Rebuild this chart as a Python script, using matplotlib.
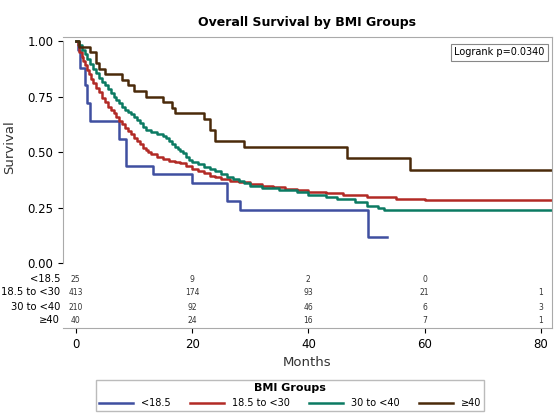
import matplotlib
matplotlib.use("Agg")
import matplotlib.pyplot as plt
import matplotlib.transforms as mtrans

groups = ["<18.5", "18.5 to <30", "30 to <40", "≥40"]
colors = ["#3f4fa0", "#b22a25", "#0b7a62", "#4a2a0a"]

t_blue = [0, 0.3, 0.8, 1.5, 2.0, 2.4, 7.4, 8.6, 13.3, 19.9, 26.0, 28.2, 50.3, 53.6]
s_blue = [1.0, 0.96, 0.88, 0.80, 0.72, 0.64, 0.56, 0.44, 0.40, 0.36, 0.28, 0.24, 0.12, 0.12]
t_red = [0, 0.3, 0.6, 1, 1.3, 1.6, 2, 2.3, 2.6, 3, 3.5, 4, 4.5, 5, 5.5, 6, 6.5, 7, 7.5, 8, 8.5, 9, 9.5, 10, 10.5, 11, 11.5, 12, 12.5, 13, 14, 15, 16, 17, 18, 19, 20, 21, 22, 23, 24, 25, 26.5, 28, 30, 32, 34, 36, 38, 40, 43, 46, 50, 55, 60, 81.8, 82]
s_red = [1, 0.98, 0.95, 0.93, 0.91, 0.89, 0.87, 0.85, 0.83, 0.81, 0.79, 0.77, 0.745, 0.725, 0.705, 0.69, 0.675, 0.66, 0.64, 0.625, 0.61, 0.595, 0.58, 0.565, 0.55, 0.535, 0.52, 0.51, 0.50, 0.49, 0.48, 0.47, 0.46, 0.455, 0.45, 0.44, 0.425, 0.415, 0.405, 0.395, 0.388, 0.38, 0.372, 0.365, 0.358, 0.35, 0.343, 0.336, 0.33, 0.322, 0.315, 0.31, 0.30, 0.29, 0.285, 0.285, 0.0]
t_green = [0, 0.5, 1, 1.5, 2, 2.5, 3, 3.5, 4, 4.5, 5, 5.5, 6, 6.5, 7, 7.5, 8, 8.5, 9, 9.5, 10, 10.5, 11, 11.5, 12, 13, 14, 15, 15.5, 16, 16.5, 17, 17.5, 18, 18.5, 19, 19.5, 20, 21, 22, 23, 24, 25, 26, 27, 28, 29, 30, 32, 35, 38, 40, 43, 45, 48, 50, 52, 53, 82]
s_green = [1, 0.98, 0.96, 0.94, 0.92, 0.895, 0.875, 0.855, 0.835, 0.815, 0.80, 0.785, 0.765, 0.75, 0.735, 0.72, 0.705, 0.69, 0.68, 0.67, 0.66, 0.645, 0.63, 0.615, 0.60, 0.59, 0.58, 0.575, 0.565, 0.55, 0.535, 0.525, 0.515, 0.505, 0.495, 0.48, 0.465, 0.455, 0.445, 0.435, 0.425, 0.415, 0.40, 0.39, 0.38, 0.37, 0.36, 0.35, 0.34, 0.33, 0.32, 0.31, 0.30, 0.29, 0.275, 0.26, 0.25, 0.24, 0.24]
t_brown = [0, 0.5, 1, 2.5, 3.5, 4, 5, 8, 9, 10, 12, 15, 16.5, 17, 22, 23, 24, 29, 46.6, 57.5, 82]
s_brown = [1, 0.975, 0.975, 0.95, 0.90, 0.875, 0.85, 0.825, 0.80, 0.775, 0.75, 0.725, 0.70, 0.675, 0.65, 0.60, 0.55, 0.525, 0.475, 0.42, 0.42]

risk_times = [0, 20, 40, 60, 80]
risk_blue = ["25", "9", "2", "0", ""]
risk_red = ["413", "174", "93", "21", "1"]
risk_green = ["210", "92", "46", "6", "3"]
risk_brown = ["40", "24", "16", "7", "1"]

fig = plt.figure(figsize=(5.56, 4.20), dpi=100)
ax = fig.add_axes([63/556, 1-328/420, (552-63)/556, (328-37)/420])
curves = [(t_blue, s_blue), (t_red, s_red), (t_green, s_green), (t_brown, s_brown)]
for (t, s), c, g in zip(curves, colors, groups):
    ax.step(t, s, where="post", color=c, lw=1.8, label=g)
ax.set_xlim(-2.2, 81.9)
ax.set_ylim(-0.29, 1.018)
ax.set_yticks([0, 0.25, 0.5, 0.75, 1.0])
ax.set_yticklabels(["0.00", "0.25", "0.50", "0.75", "1.00"], fontsize=8.5)
ax.set_xticks(risk_times)
ax.tick_params(axis="x", labelsize=8.5)
ax.set_xlabel("Months", fontsize=9.5, color="#333333")
ax.set_ylabel("Survival", fontsize=9.5, color="#333333")
ax.yaxis.set_label_coords(-0.095, 0.62)
for sp in ax.spines.values():
    sp.set_color("#aaaaaa")
ax.spines["left"].set_bounds(0, 1.0)
ax.set_title("Overall Survival by BMI Groups", fontsize=9, fontweight="bold", pad=8)

rows = [risk_blue, risk_red, risk_green, risk_brown]
ys = [-0.07, -0.13, -0.197, -0.255]
trans = mtrans.blended_transform_factory(ax.transAxes, ax.transData)
for r, y, g in zip(rows, ys, groups):
    for x, v in zip(risk_times, r):
        ax.text(x, y, v, fontsize=5.5, ha="center", va="center", color="#333333")
    ax.text(-0.006, y, g, fontsize=7.2, ha="right", va="center", transform=trans)

ax.text(0.985, 0.965, "Logrank p=0.0340", transform=ax.transAxes, ha="right", va="top",
        fontsize=7, bbox=dict(boxstyle="square,pad=0.35", fc="white", ec="#888888", lw=0.8))

leg = fig.legend(loc="lower center", bbox_to_anchor=(0.522, 0.01), ncol=4, fontsize=7,
                 title="BMI Groups", title_fontproperties={"weight": "bold", "size": 8},
                 frameon=True, fancybox=False, edgecolor="#aaaaaa", handlelength=3.5,
                 columnspacing=2.0, borderpad=0.3, handletextpad=0.8)
fig.savefig("out.png", dpi=100)
